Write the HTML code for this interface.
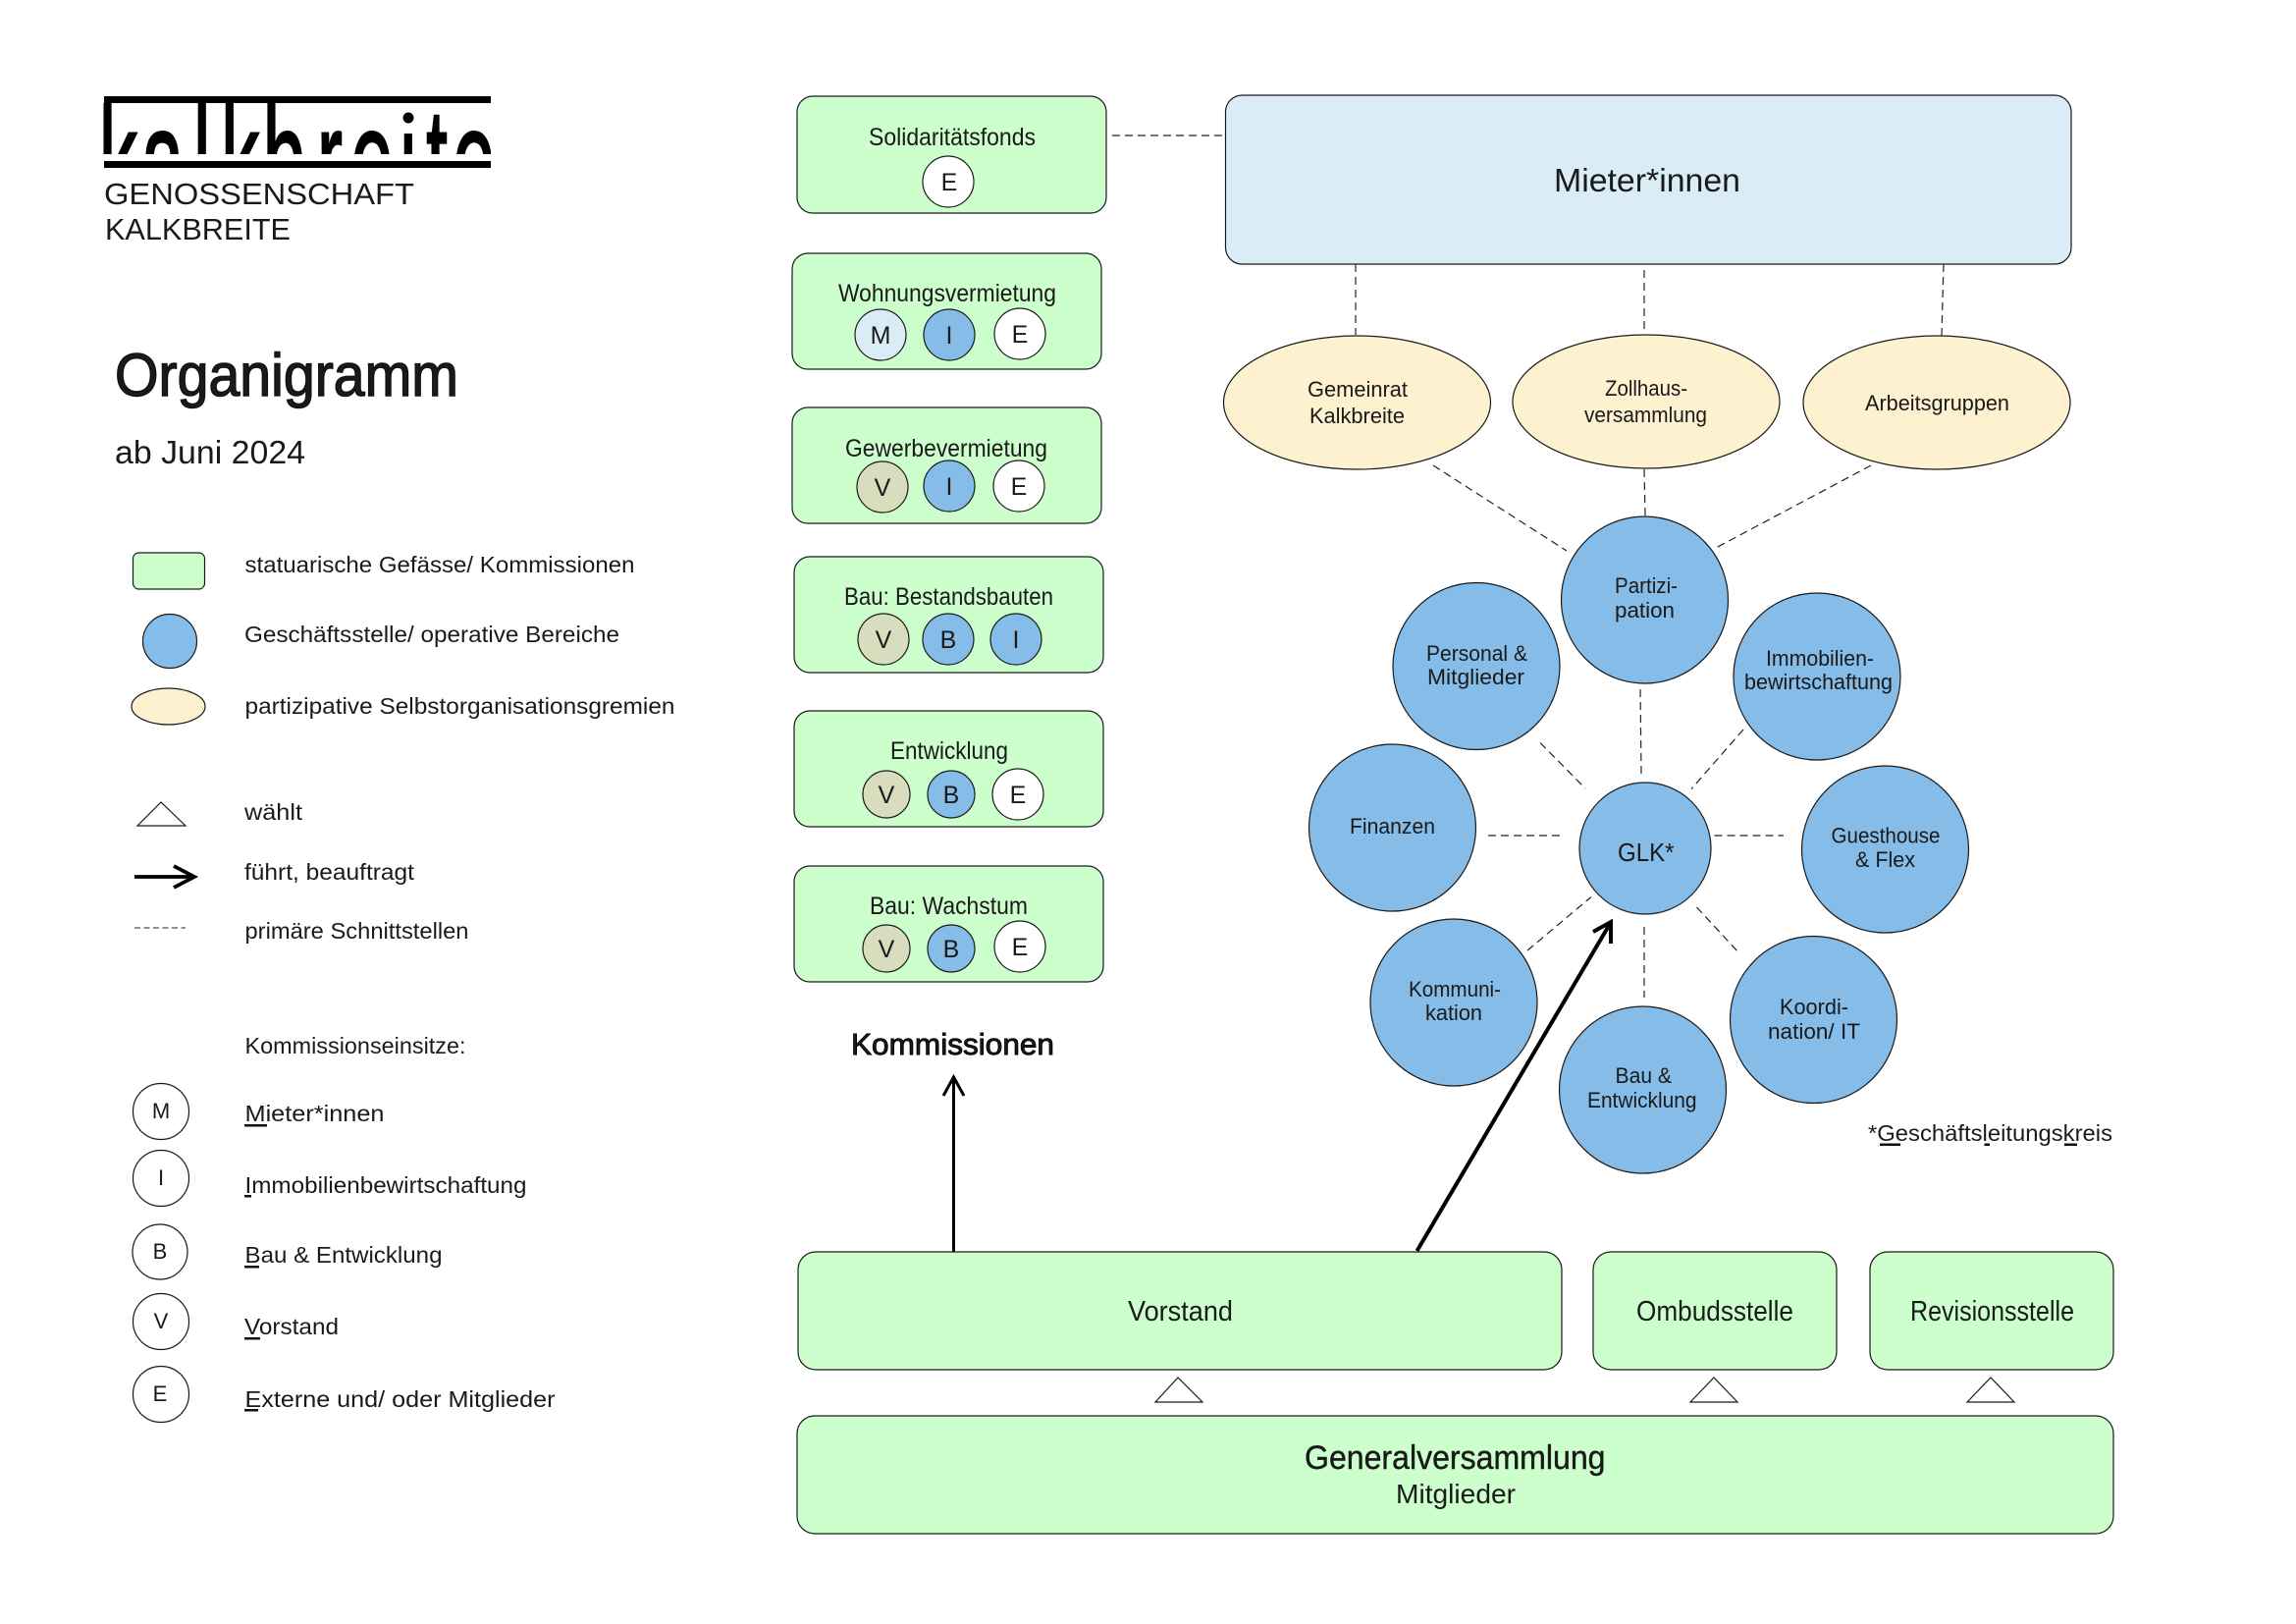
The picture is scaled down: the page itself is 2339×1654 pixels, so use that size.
<!DOCTYPE html>
<html lang="de"><head><meta charset="utf-8"><title>Organigramm</title>
<style>
html,body{margin:0;padding:0;background:#fff}
svg{display:block}
text{font-family:"Liberation Sans",sans-serif;fill:#1a1a1a}
.g{fill:#ccffcc;stroke:#1a1a1a;stroke-width:1.2}
.bl{fill:#85bce8;stroke:#1a1a1a;stroke-width:1.2}
.y{fill:#fdf1cf;stroke:#1a1a1a;stroke-width:1.2}
.lb{fill:#daedf6;stroke:#1a1a1a;stroke-width:1.2}
.ol{fill:#d8ddbe;stroke:#1a1a1a;stroke-width:1.2}
.w{fill:#fff;stroke:#1a1a1a;stroke-width:1.2}
.d{stroke:#222;stroke-width:1.2;stroke-dasharray:8 5;fill:none}
.c{font-size:22px;text-anchor:middle}
.s{font-size:23px}
.m{font-size:22px}
.k{font-size:25px}
.u{fill:#111}
</style></head><body>
<svg xmlns="http://www.w3.org/2000/svg" width="2339" height="1654" viewBox="0 0 2339 1654">
<rect width="2339" height="1654" fill="#fff"/>
<defs><clipPath id="lg"><rect x="100" y="98" width="400" height="59"/></clipPath></defs>

<!-- Logo -->
<g clip-path="url(#lg)">
<text transform="scale(.52,1)" y="215" font-size="150" x="194 277 379 433 515 621 687 783 835 887" style="fill:#000" stroke="#000" stroke-width="2.5">kalkbreite</text>
<rect x="406" y="105" width="20" height="31" fill="#fff"/>
<circle cx="416" cy="120" r="5.5" fill="#000"/>
</g>
<rect x="106" y="98" width="394" height="7" fill="#000"/>
<rect x="106" y="164" width="394" height="7" fill="#000"/>
<text x="106" y="208" font-size="31" textLength="316" lengthAdjust="spacingAndGlyphs">GENOSSENSCHAFT</text>
<text x="107" y="244" font-size="31" textLength="189" lengthAdjust="spacingAndGlyphs">KALKBREITE</text>

<!-- Title -->
<text x="117" y="403" font-size="61" textLength="350" lengthAdjust="spacingAndGlyphs" stroke="#111" stroke-width="1.4">Organigramm</text>
<text x="117" y="472" font-size="33" textLength="194" lengthAdjust="spacingAndGlyphs">ab Juni 2024</text>

<!-- Legend -->
<rect class="g" x="135.5" y="563" width="73" height="37" rx="6"/>
<text class="s" x="249.5" y="583" textLength="397" lengthAdjust="spacingAndGlyphs">statuarische Gefässe/ Kommissionen</text>
<ellipse class="bl" cx="173" cy="653" rx="27.5" ry="27.5"/>
<text class="s" x="249" y="654" textLength="382" lengthAdjust="spacingAndGlyphs">Geschäftsstelle/ operative Bereiche</text>
<ellipse class="y" cx="171.5" cy="719.5" rx="37.5" ry="18.5"/>
<text class="s" x="249.5" y="727" textLength="438" lengthAdjust="spacingAndGlyphs">partizipative Selbstorganisationsgremien</text>
<polygon class="w" points="140,841 189,841 164,817"/>
<text class="s" x="249" y="835" textLength="59" lengthAdjust="spacingAndGlyphs">wählt</text>
<path d="M137 893H197M177 882L198 893L177 904" fill="none" stroke="#000" stroke-width="3.8"/>
<text class="s" x="249" y="896" textLength="173" lengthAdjust="spacingAndGlyphs">führt, beauftragt</text>
<path d="M137 945H189" fill="none" stroke="#222" stroke-width="1" stroke-dasharray="6 3.5"/>
<text class="s" x="249.5" y="956" textLength="228" lengthAdjust="spacingAndGlyphs">primäre Schnittstellen</text>

<text class="s" x="249.5" y="1073" textLength="225" lengthAdjust="spacingAndGlyphs">Kommissionseinsitze:</text>
<circle class="w" cx="164" cy="1132" r="28.5"/><text class="c" x="164" y="1139">M</text>
<circle class="w" cx="164" cy="1200" r="28.5"/><text class="c" x="164" y="1207">I</text>
<circle class="w" cx="163" cy="1275" r="28"/><text class="c" x="163" y="1282">B</text>
<circle class="w" cx="164" cy="1346" r="28.5"/><text class="c" x="164" y="1353">V</text>
<circle class="w" cx="164" cy="1420" r="28.5"/><text class="c" x="163" y="1427">E</text>
<text class="s" x="249.5" y="1142" textLength="142" lengthAdjust="spacingAndGlyphs">Mieter*innen</text><rect class="u" x="249" y="1145" width="23" height="2.5"/>
<text class="s" x="249.5" y="1215" textLength="287" lengthAdjust="spacingAndGlyphs">Immobilienbewirtschaftung</text><rect class="u" x="249" y="1217" width="7" height="2.5"/>
<text class="s" x="249.5" y="1286" textLength="201" lengthAdjust="spacingAndGlyphs">Bau &amp; Entwicklung</text><rect class="u" x="249" y="1289" width="15" height="2.5"/>
<text class="s" x="249" y="1359" textLength="96" lengthAdjust="spacingAndGlyphs">Vorstand</text><rect class="u" x="249" y="1362" width="16" height="2.5"/>
<text class="s" x="249.5" y="1433" textLength="316" lengthAdjust="spacingAndGlyphs">Externe und/ oder Mitglieder</text><rect class="u" x="249" y="1435" width="14" height="2.5"/>

<!-- Kommissionen -->
<rect class="g" x="812" y="98" width="315" height="119" rx="16"/>
<text class="k" x="885" y="148" textLength="170" lengthAdjust="spacingAndGlyphs">Solidaritätsfonds</text>
<circle class="w" cx="966" cy="185" r="26"/><text class="k c" x="967" y="194">E</text>

<rect class="g" x="807" y="258" width="315" height="118" rx="16"/>
<text class="k" x="854" y="307" textLength="222" lengthAdjust="spacingAndGlyphs">Wohnungsvermietung</text>
<circle class="lb" cx="897" cy="341" r="26"/><text class="k c" x="897" y="350">M</text>
<circle class="bl" cx="967" cy="341" r="26"/><text class="k c" x="967" y="350">I</text>
<circle class="w" cx="1039" cy="340" r="26"/><text class="k c" x="1039" y="349">E</text>

<rect class="g" x="807" y="415" width="315" height="118" rx="16"/>
<text class="k" x="861" y="465" textLength="206" lengthAdjust="spacingAndGlyphs">Gewerbevermietung</text>
<circle class="ol" cx="899" cy="496" r="26"/><text class="k c" x="899" y="505">V</text>
<circle class="bl" cx="967" cy="495" r="26"/><text class="k c" x="967" y="504">I</text>
<circle class="w" cx="1038" cy="495" r="26"/><text class="k c" x="1038" y="504">E</text>

<rect class="g" x="809" y="567" width="315" height="118" rx="16"/>
<text class="k" x="860" y="616" textLength="213" lengthAdjust="spacingAndGlyphs">Bau: Bestandsbauten</text>
<circle class="ol" cx="900" cy="651" r="26"/><text class="k c" x="900" y="660">V</text>
<circle class="bl" cx="966" cy="651" r="26"/><text class="k c" x="966" y="660">B</text>
<circle class="bl" cx="1035" cy="651" r="26"/><text class="k c" x="1035" y="660">I</text>

<rect class="g" x="809" y="724" width="315" height="118" rx="16"/>
<text class="k" x="907" y="773" textLength="120" lengthAdjust="spacingAndGlyphs">Entwicklung</text>
<circle class="ol" cx="903" cy="809" r="24"/><text class="k c" x="903" y="818">V</text>
<circle class="bl" cx="969" cy="809" r="24"/><text class="k c" x="969" y="818">B</text>
<circle class="w" cx="1037" cy="809" r="26"/><text class="k c" x="1037" y="818">E</text>

<rect class="g" x="809" y="882" width="315" height="118" rx="16"/>
<text class="k" x="886" y="931" textLength="161" lengthAdjust="spacingAndGlyphs">Bau: Wachstum</text>
<circle class="ol" cx="903" cy="966" r="24"/><text class="k c" x="903" y="975">V</text>
<circle class="bl" cx="969" cy="966" r="24"/><text class="k c" x="969" y="975">B</text>
<circle class="w" cx="1039" cy="964" r="26"/><text class="k c" x="1039" y="973">E</text>

<text x="867" y="1074" font-size="31" textLength="207" lengthAdjust="spacingAndGlyphs" stroke="#000" stroke-width=".9">Kommissionen</text>
<path d="M971.5 1275V1098M961 1116L971.5 1097L982 1116" fill="none" stroke="#000" stroke-width="3"/>

<!-- Connectors -->
<path class="d" d="M1133 138H1248"/>
<path class="d" d="M1381 269V341M1675 275V340M1980 269L1978 342"/>
<path class="d" d="M1460 474L1596 561M1675 478L1676 525M1906 474L1748 558"/>
<path class="d" d="M1671 702L1672 788M1569 756.5L1615 803M1776 743L1723 803.6M1516 851H1591M1746.5 851H1817M1556 968L1621 913.5M1728.5 924L1772 971M1675 944V1016"/>

<!-- Mieter -->
<rect class="lb" x="1248.5" y="97" width="861.5" height="172" rx="17"/>
<text x="1583" y="195" font-size="33" textLength="190" lengthAdjust="spacingAndGlyphs">Mieter*innen</text>

<ellipse class="y" cx="1382.5" cy="410" rx="136" ry="68"/>
<ellipse class="y" cx="1677" cy="409" rx="136" ry="68"/>
<ellipse class="y" cx="1973" cy="410" rx="136" ry="68"/>
<text class="m" x="1332" y="404" textLength="102" lengthAdjust="spacingAndGlyphs">Gemeinrat</text>
<text class="m" x="1334" y="431" textLength="97" lengthAdjust="spacingAndGlyphs">Kalkbreite</text>
<text class="m" x="1635" y="403" textLength="84" lengthAdjust="spacingAndGlyphs">Zollhaus-</text>
<text class="m" x="1614" y="430" textLength="125" lengthAdjust="spacingAndGlyphs">versammlung</text>
<text class="m" x="1900" y="418" textLength="147" lengthAdjust="spacingAndGlyphs">Arbeitsgruppen</text>

<!-- Blue circles -->
<circle class="bl" cx="1675.5" cy="611" r="85"/>
<text class="m" x="1645" y="604" textLength="64" lengthAdjust="spacingAndGlyphs">Partizi-</text>
<text class="m" x="1645" y="629" textLength="61" lengthAdjust="spacingAndGlyphs">pation</text>
<circle class="bl" cx="1504" cy="678.5" r="85"/>
<text class="m" x="1453" y="673" textLength="103" lengthAdjust="spacingAndGlyphs">Personal &amp;</text>
<text class="m" x="1454" y="697" textLength="99" lengthAdjust="spacingAndGlyphs">Mitglieder</text>
<circle class="bl" cx="1851" cy="689" r="85"/>
<text class="m" x="1799" y="678" textLength="110" lengthAdjust="spacingAndGlyphs">Immobilien-</text>
<text class="m" x="1777" y="702" textLength="151" lengthAdjust="spacingAndGlyphs">bewirtschaftung</text>
<circle class="bl" cx="1418.5" cy="843" r="85"/>
<text class="m" x="1375" y="849" textLength="87" lengthAdjust="spacingAndGlyphs">Finanzen</text>
<circle class="bl" cx="1676" cy="864" r="67"/>
<text x="1648" y="877" font-size="26" textLength="57.5" lengthAdjust="spacingAndGlyphs">GLK*</text>
<circle class="bl" cx="1920.5" cy="865" r="85"/>
<text class="m" x="1865.5" y="858.5" textLength="111" lengthAdjust="spacingAndGlyphs">Guesthouse</text>
<text class="m" x="1890" y="883" textLength="61" lengthAdjust="spacingAndGlyphs">&amp; Flex</text>
<circle class="bl" cx="1481" cy="1021" r="85"/>
<text class="m" x="1435" y="1015" textLength="94" lengthAdjust="spacingAndGlyphs">Kommuni-</text>
<text class="m" x="1452" y="1039" textLength="58" lengthAdjust="spacingAndGlyphs">kation</text>
<circle class="bl" cx="1673.5" cy="1110" r="85"/>
<text class="m" x="1645.5" y="1103" textLength="57.5" lengthAdjust="spacingAndGlyphs">Bau &amp;</text>
<text class="m" x="1617" y="1128" textLength="111.5" lengthAdjust="spacingAndGlyphs">Entwicklung</text>
<circle class="bl" cx="1847.5" cy="1038.5" r="85"/>
<text class="m" x="1813" y="1033" textLength="70" lengthAdjust="spacingAndGlyphs">Koordi-</text>
<text class="m" x="1801" y="1058" textLength="94" lengthAdjust="spacingAndGlyphs">nation/ IT</text>

<text class="s" x="1903" y="1162" textLength="249" lengthAdjust="spacingAndGlyphs">*Geschäftsleitungskreis</text>
<rect class="u" x="1915" y="1164.5" width="21" height="2.5"/>
<rect class="u" x="2021.5" y="1164.5" width="5.5" height="2.5"/>
<rect class="u" x="2103" y="1164.5" width="13" height="2.5"/>

<!-- Arrow to GLK -->
<path d="M1443.5 1274L1640 941M1623 949L1641 939L1641 961" fill="none" stroke="#000" stroke-width="4"/>

<!-- Bottom boxes -->
<rect class="g" x="813" y="1275" width="778" height="120" rx="18"/>
<text x="1149" y="1345" font-size="29" textLength="107" lengthAdjust="spacingAndGlyphs">Vorstand</text>
<rect class="g" x="1623" y="1275" width="248" height="120" rx="18"/>
<text x="1667" y="1345" font-size="29" textLength="160" lengthAdjust="spacingAndGlyphs">Ombudsstelle</text>
<rect class="g" x="1905" y="1275" width="248" height="120" rx="18"/>
<text x="1946" y="1345" font-size="29" textLength="167" lengthAdjust="spacingAndGlyphs">Revisionsstelle</text>
<polygon class="w" points="1177,1428 1225,1428 1200,1403"/>
<polygon class="w" points="1722,1428 1770,1428 1746,1403"/>
<polygon class="w" points="2004,1428 2052,1428 2028,1403"/>
<rect class="g" x="812" y="1442" width="1341" height="120" rx="18"/>
<text x="1329" y="1496" font-size="34" textLength="306.5" lengthAdjust="spacingAndGlyphs" stroke="#111" stroke-width=".4">Generalversammlung</text>
<text x="1422" y="1531" font-size="28" textLength="122" lengthAdjust="spacingAndGlyphs">Mitglieder</text>
</svg>
</body></html>
